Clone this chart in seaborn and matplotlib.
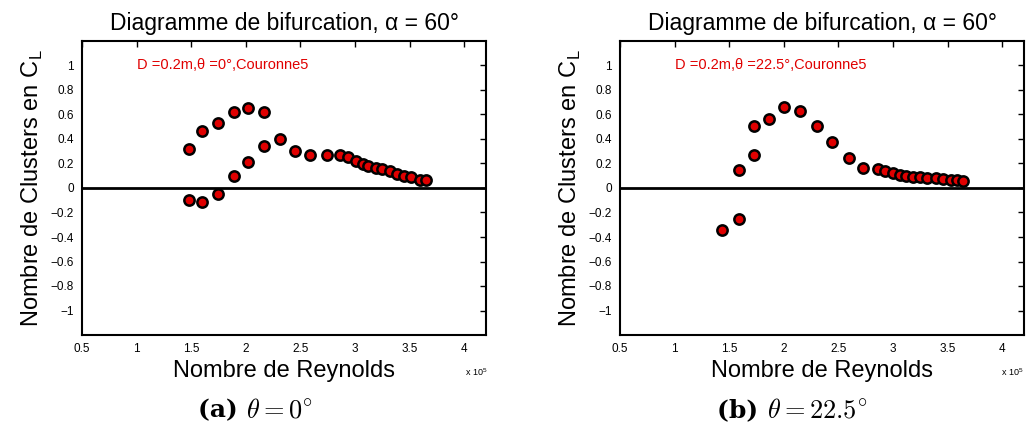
import numpy as np
import pandas as pd
import matplotlib.pyplot as plt
import seaborn as sns

sns.set_style("white")
plt.rcParams['font.family'] = ['Liberation Sans', 'DejaVu Sans']
plt.rcParams['mathtext.fontset'] = 'cm'
plt.rcParams['text.color'] = 'black'
plt.rcParams['axes.labelcolor'] = 'black'

# Reynolds (x 1e5) et nombre de clusters en C_L
re_a = [1.476, 1.60, 1.747, 1.89, 2.02, 2.165,
        1.476, 1.60, 1.747, 1.89, 2.02, 2.165, 2.31, 2.455, 2.59, 2.745,
        2.86, 2.94, 3.01, 3.07, 3.12, 3.19, 3.25, 3.32, 3.385, 3.45, 3.51, 3.60, 3.65]
cl_a = [0.318, 0.465, 0.534, 0.62, 0.65, 0.617,
        -0.10, -0.116, -0.046, 0.10, 0.21, 0.345, 0.396, 0.305, 0.267, 0.272,
        0.27, 0.25, 0.218, 0.197, 0.178, 0.165, 0.154, 0.137, 0.116, 0.095, 0.089, 0.068, 0.062]

re_b = [1.43, 1.59, 1.59, 1.73, 1.73, 1.863, 2.0, 2.153, 2.30, 2.446, 2.595, 2.726,
        2.863, 2.927, 2.998, 3.06, 3.12, 3.187, 3.245, 3.315, 3.39, 3.458, 3.528, 3.583, 3.644]
cl_b = [-0.345, -0.256, 0.149, 0.267, 0.507, 0.563, 0.66, 0.63, 0.507, 0.372, 0.248, 0.167,
        0.157, 0.135, 0.121, 0.108, 0.097, 0.089, 0.089, 0.084, 0.078, 0.076, 0.068, 0.065, 0.054]

xticks = [0.5, 1, 1.5, 2, 2.5, 3, 3.5, 4]
xticklabels = ['0.5', '1', '1.5', '2', '2.5', '3', '3.5', '4']
yticks = [-1, -0.8, -0.6, -0.4, -0.2, 0, 0.2, 0.4, 0.6, 0.8, 1]
yticklabels = ['\u22121', '\u22120.8', '\u22120.6', '\u22120.4', '\u22120.2', '0',
               '0.2', '0.4', '0.6', '0.8', '1']

# (x, y, note, tag, caption, axes left px, caption split px)
panels = [
    (re_a, cl_a, 'D =0.2m,\u03b8 =0\u00b0,Couronne5', '(a)', r'$\theta = 0^{\circ}$', 82, 246),
    (re_b, cl_b, 'D =0.2m,\u03b8 =22.5\u00b0,Couronne5', '(b)', r'$\theta = 22.5^{\circ}$', 620, 767),
]

W, H = 1026, 428
fig = plt.figure(figsize=(W / 100, H / 100), dpi=100)

for re, cl, note, tag, caption, left, split in panels:
    ax = fig.add_axes([left / W, (H - 335) / H, 404 / W, 294 / H])
    df = pd.DataFrame({'Re': re, 'CL': cl})
    ax.axhline(0, color='black', lw=2, zorder=1)
    sns.scatterplot(data=df, x='Re', y='CL', ax=ax, s=55, color='#e00000',
                    edgecolor='black', linewidth=1.8, zorder=3)
    ax.set_xlim(0.5, 4.2)
    ax.set_ylim(-1.2, 1.2)
    ax.set_xticks(xticks)
    ax.set_xticklabels(xticklabels)
    ax.set_yticks(yticks)
    ax.set_yticklabels(yticklabels)
    ax.tick_params(direction='in', length=4, width=1, labelsize=8.5,
                   top=True, right=True, pad=6, colors='black')
    for sp in ax.spines.values():
        sp.set_linewidth(1.5)
        sp.set_color('black')
    ax.set_xlabel('Nombre de Reynolds', fontsize=17, labelpad=3)
    ax.set_ylabel(r'Nombre de Clusters en C$_\mathregular{L}$', fontsize=17, labelpad=4)
    ax.set_title('Diagramme de bifurcation, \u03b1 = 60\u00b0', fontsize=16.5, pad=8)
    ax.text(1.0, 1.0, note, color='#e00000', fontsize=10.5, ha='left', va='center')
    xr = min(left + 404 + 2, W - 2)
    fig.text(xr / W, 1 - 372 / H, r'x 10$^\mathregular{5}$',
             fontsize=6.5, ha='right', va='center')
    fig.text(split / W, 1 - 410 / H, tag + ' ', fontsize=18, family='DejaVu Serif',
             weight='bold', ha='right', va='center')
    fig.text(split / W, 1 - 410 / H, caption, fontsize=19, ha='left', va='center')

plt.savefig('out.png', dpi=100)
